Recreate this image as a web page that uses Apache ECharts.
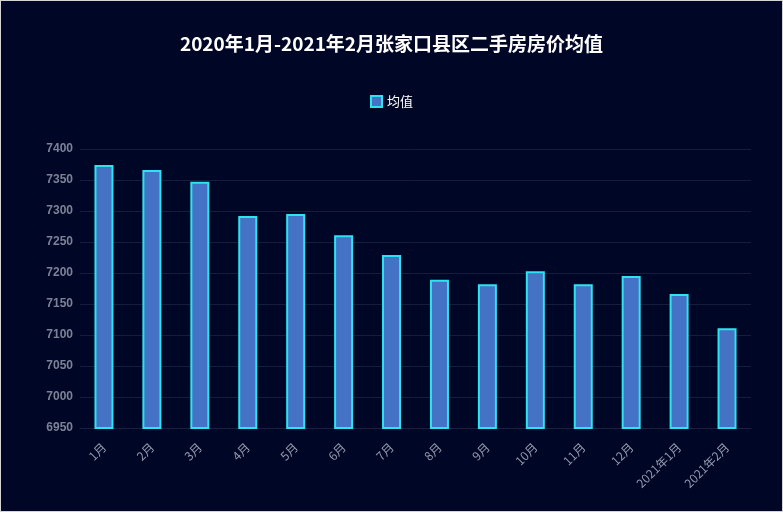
<!DOCTYPE html>
<html><head><meta charset="utf-8">
<script src="https://cdn.jsdelivr.net/npm/echarts@6/dist/echarts.min.js"></script>
<style>html,body{margin:0;padding:0;background:#fff;}#c{width:783px;height:512px;box-sizing:border-box;border:1px solid #d4d4d4;}</style>
</head><body><div id="c"></div>
<script>
const categories = ['1月','2月','3月','4月','5月','6月','7月','8月','9月','10月','11月','12月','2021年1月','2021年2月'];
const values = [7374, 7366, 7347, 7292, 7295, 7261, 7229, 7189, 7182, 7203, 7182, 7195, 7166, 7111];
const yMin = 6950, yMax = 7400, yStep = 50;
const chart = echarts.init(document.getElementById('c'));
chart.setOption({
  backgroundColor: '#000626',
  title: { text: '2020年1月-2021年2月张家口县区二手房房价均值', left: 'center', top: 28,
    textStyle: { color: '#fff', fontSize: 19, fontWeight: 'bold', fontFamily: 'Noto Sans CJK SC' } },
  legend: { top: 89, left: 'center', itemWidth: 11, itemHeight: 11, icon: 'rect',
    textStyle: { color: '#fff', fontSize: 13, fontFamily: 'Noto Sans CJK SC' }, data: ['均值'] },
  grid: { left: 79, right: 31, top: 148, bottom: 83 },
  xAxis: { type: 'category', data: categories,
    axisLine: { lineStyle: { color: '#1a2040' } }, axisTick: { show: false },
    axisLabel: { color: '#9499ac', rotate: 45, fontSize: 12, margin: 17, fontFamily: 'Noto Sans CJK SC' } },
  yAxis: { type: 'value', min: yMin, max: yMax, interval: yStep,
    axisLine: { show: false }, axisTick: { show: false },
    axisLabel: { color: '#7c8296', fontSize: 12, fontWeight: 'bold', margin: 7, fontFamily: 'Liberation Sans',
      formatter: v => String(v) },
    splitLine: { lineStyle: { color: '#161c3c' } } },
  series: [{ name: '均值', type: 'bar', data: values, barWidth: 19,
    itemStyle: { color: '#4472c4', borderColor: '#2ae4f2', borderWidth: 2 } }]
});
</script></body></html>
